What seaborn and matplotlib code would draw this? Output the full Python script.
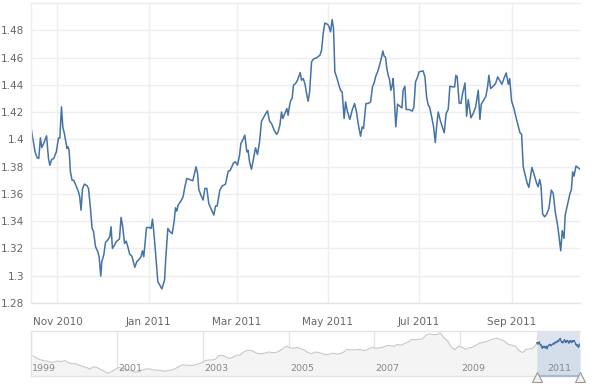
import numpy as np
import pandas as pd
import matplotlib
matplotlib.use("Agg")
import matplotlib.pyplot as plt
import matplotlib.dates as mdates
import matplotlib.transforms as mtransforms
import seaborn as sns

# ---------------- data ----------------
start_date = "2010-10-14"
day_offsets = [0.3, 3.0, 4.4, 5.5, 6.6, 7.5, 8.8, 10.7, 12.0, 12.9, 14.2, 15.5, 17.3, 18.7, 19.6, 20.7, 21.6, 22.7, 24.4, 25.1,
               25.8, 26.7, 27.8, 28.9, 30.5, 32.1, 32.9, 33.8, 34.8, 36.1, 37.8, 38.8, 40.1, 41.2, 42.1, 43.5, 45.0, 45.9, 47.0, 47.7,
               49.0, 50.2, 51.7, 53.0, 53.9, 54.8, 56.2, 57.3, 59.5, 60.6, 61.7, 62.9, 64.0, 65.1, 66.4, 67.8, 69.8, 71.1, 72.7, 74.0,
               74.9, 75.8, 76.7, 77.6, 79.0, 80.7, 81.6, 82.5, 83.8, 85.2, 86.5, 87.9, 89.7, 90.5, 91.9, 93.0, 94.8, 96.1, 97.0, 97.9,
               98.8, 100.6, 102.1, 103.3, 104.6, 106.4, 108.6, 110.8, 111.8, 112.6, 114.0, 115.5, 116.7, 118.0, 119.3, 120.7, 122.7, 123.8, 124.9, 126.7,
               128.2, 130.5, 132.3, 133.6, 135.9, 137.2, 138.5, 139.9, 140.8, 142.3, 143.4, 144.8, 145.6, 146.6, 147.9, 149.3, 150.6, 151.9, 153.3, 154.6,
               156.2, 157.5, 158.6, 160.0, 161.3, 163.1, 164.7, 165.7, 166.9, 168.0, 168.9, 170.2, 171.6, 172.4, 173.4, 174.2, 175.1, 176.0, 177.4, 178.7,
               180.5, 181.4, 182.5, 183.6, 185.0, 185.8, 186.8, 188.1, 189.4, 191.4, 193.7, 194.8, 195.9, 197.0, 198.8, 199.7, 200.8, 201.9, 202.8, 203.7,
               205.2, 206.6, 207.7, 208.6, 209.9, 210.9, 211.9, 213.7, 215.3, 216.9, 218.2, 219.3, 220.9, 222.0, 222.9, 224.5, 226.0, 227.6, 228.9, 230.0,
               231.1, 232.3, 233.6, 235.0, 235.8, 236.7, 237.6, 238.5, 239.4, 240.3, 241.2, 242.1, 242.7, 243.4, 244.5, 245.7, 247.0, 248.6, 249.4, 250.6,
               251.4, 253.3, 255.5, 256.6, 257.7, 259.1, 260.1, 262.8, 264.0, 265.1, 266.2, 267.1, 268.5, 269.8, 270.9, 272.0, 272.9, 274.2, 275.6, 276.9,
               278.2, 279.6, 280.7, 282.5, 283.9, 284.7, 285.6, 286.9, 288.1, 289.2, 290.8, 291.9, 293.0, 294.8, 296.3, 297.9, 299.7, 300.8, 301.7, 303.0,
               304.8, 306.0, 306.8, 308.0, 309.7, 311.3, 312.7, 314.2, 315.5, 317.1, 318.4, 319.8, 320.7, 322.0, 323.6, 324.9, 326.3, 327.6, 328.7, 329.8,
               331.1, 332.5, 333.6, 335.6, 337.0, 338.8, 339.8, 340.8, 341.7, 342.8, 344.1, 345.5, 347.0, 348.6, 349.9, 351.2, 352.6, 353.5, 354.9, 355.9,
               357.1, 357.9, 359.5, 361.1, 362.0, 362.9, 363.8, 365.1, 366.4, 367.8]
rates = [1.4087, 1.3909, 1.3865, 1.3860, 1.4011, 1.3940, 1.3970, 1.4026, 1.3860, 1.3810, 1.3853, 1.3860, 1.3910, 1.4010, 1.4010, 1.4238, 1.4090, 1.4040, 1.3933, 1.3945,
         1.3920, 1.3762, 1.3700, 1.3700, 1.3659, 1.3615, 1.3579, 1.3481, 1.3640, 1.3672, 1.3660, 1.3640, 1.3494, 1.3347, 1.3327, 1.3213, 1.3176, 1.3140, 1.2998, 1.3103,
         1.3152, 1.3245, 1.3262, 1.3286, 1.3359, 1.3200, 1.3225, 1.3249, 1.3269, 1.3428, 1.3359, 1.3237, 1.3254, 1.3213, 1.3157, 1.3144, 1.3062, 1.3103, 1.3120, 1.3140,
         1.3183, 1.3140, 1.3249, 1.3352, 1.3355, 1.3347, 1.3415, 1.3322, 1.3152, 1.2956, 1.2932, 1.2903, 1.2968, 1.3127, 1.3347, 1.3327, 1.3308, 1.3396, 1.3498, 1.3474,
         1.3518, 1.3547, 1.3579, 1.3652, 1.3713, 1.3706, 1.3696, 1.3799, 1.3750, 1.3635, 1.3591, 1.3555, 1.3640, 1.3640, 1.3530, 1.3494, 1.3445, 1.3511, 1.3511, 1.3628,
         1.3657, 1.3672, 1.3767, 1.3772, 1.3828, 1.3835, 1.3811, 1.3884, 1.3970, 1.4001, 1.4031, 1.3908, 1.3920, 1.3835, 1.3780, 1.3860, 1.3938, 1.3889, 1.3982, 1.4133,
         1.4165, 1.4190, 1.4209, 1.4133, 1.4116, 1.4067, 1.4036, 1.4055, 1.4104, 1.4201, 1.4153, 1.4190, 1.4226, 1.4177, 1.4251, 1.4287, 1.4300, 1.4397, 1.4410, 1.4434,
         1.4490, 1.4434, 1.4446, 1.4410, 1.4324, 1.4280, 1.4348, 1.4568, 1.4590, 1.4597, 1.4617, 1.4653, 1.4776, 1.4853, 1.4844, 1.4829, 1.4788, 1.4878, 1.4812, 1.4495,
         1.4446, 1.4390, 1.4356, 1.4348, 1.4153, 1.4275, 1.4214, 1.4146, 1.4214, 1.4263, 1.4201, 1.4116, 1.4023, 1.4092, 1.4080, 1.4263, 1.4263, 1.4275, 1.4385, 1.4414,
         1.4463, 1.4495, 1.4544, 1.4604, 1.4648, 1.4610, 1.4604, 1.4519, 1.4470, 1.4439, 1.4360, 1.4397, 1.4446, 1.4324, 1.4092, 1.4258, 1.4245, 1.4231, 1.4360, 1.4390,
         1.4219, 1.4219, 1.4207, 1.4238, 1.4421, 1.4458, 1.4495, 1.4502, 1.4458, 1.4311, 1.4251, 1.4238, 1.4165, 1.4092, 1.3977, 1.4116, 1.4201, 1.4141, 1.4092, 1.4048,
         1.4190, 1.4221, 1.4390, 1.4385, 1.4385, 1.4470, 1.4458, 1.4267, 1.4263, 1.4336, 1.4414, 1.4170, 1.4292, 1.4158, 1.4190, 1.4234, 1.4360, 1.4146, 1.4258, 1.4282,
         1.4316, 1.4390, 1.4470, 1.4373, 1.4390, 1.4410, 1.4458, 1.4429, 1.4404, 1.4453, 1.4487, 1.4404, 1.4446, 1.4282, 1.4226, 1.4165, 1.4104, 1.4048, 1.4038, 1.3799,
         1.3738, 1.3677, 1.3648, 1.3794, 1.3745, 1.3677, 1.3652, 1.3706, 1.3657, 1.3452, 1.3432, 1.3452, 1.3494, 1.3628, 1.3604, 1.3469, 1.3384, 1.3311, 1.3183, 1.3330,
         1.3274, 1.3445, 1.3525, 1.3604, 1.3628, 1.3762, 1.3730, 1.3804, 1.3794, 1.3780]

y_ticks = [1.28, 1.30, 1.32, 1.34, 1.36, 1.38, 1.40, 1.42, 1.44, 1.46, 1.48]
y_tick_labels = ["1.28", "1.3", "1.32", "1.34", "1.36", "1.38", "1.4", "1.42", "1.44", "1.46", "1.48"]
x_tick_dates = ["2010-11-01", "2011-01-01", "2011-03-01", "2011-05-01", "2011-07-01", "2011-09-01"]
x_tick_labels = ["Nov 2010", "Jan 2011", "Mar 2011", "May 2011", "Jul 2011", "Sep 2011"]

# navigator: long-term history (monthly, 1999 - Oct 2010)
nav_years = list(range(1999, 2011))
nav_rates_by_year = {
    1999: [1.16, 1.12, 1.09, 1.07, 1.06, 1.04, 1.04, 1.06, 1.05, 1.07, 1.03, 1.01],
    2000: [1.01, 0.98, 0.96, 0.94, 0.91, 0.95, 0.94, 0.90, 0.87, 0.83, 0.86, 0.90],
    2001: [0.94, 0.92, 0.91, 0.89, 0.87, 0.85, 0.86, 0.90, 0.91, 0.91, 0.89, 0.89],
    2002: [0.88, 0.87, 0.88, 0.89, 0.92, 0.96, 0.99, 0.98, 0.98, 0.98, 1.00, 1.02],
    2003: [1.06, 1.08, 1.08, 1.09, 1.16, 1.17, 1.14, 1.11, 1.13, 1.17, 1.17, 1.23],
    2004: [1.26, 1.26, 1.23, 1.20, 1.20, 1.21, 1.23, 1.22, 1.22, 1.25, 1.30, 1.34],
    2005: [1.31, 1.30, 1.32, 1.29, 1.27, 1.22, 1.20, 1.23, 1.22, 1.20, 1.18, 1.19],
    2006: [1.21, 1.19, 1.20, 1.23, 1.28, 1.27, 1.27, 1.28, 1.27, 1.26, 1.29, 1.32],
    2007: [1.30, 1.31, 1.32, 1.35, 1.35, 1.34, 1.37, 1.36, 1.39, 1.42, 1.47, 1.46],
    2008: [1.47, 1.48, 1.55, 1.57, 1.56, 1.56, 1.59, 1.50, 1.44, 1.33, 1.27, 1.34],
    2009: [1.32, 1.28, 1.31, 1.32, 1.36, 1.40, 1.41, 1.43, 1.46, 1.48, 1.49, 1.46],
    2010: [1.43, 1.37, 1.36, 1.34, 1.26, 1.22, 1.28, 1.29, 1.31, 1.39],
}
nav_label_years = [1999, 2001, 2003, 2005, 2007, 2009, 2011]

# ---------------- frames ----------------
t0 = pd.Timestamp(start_date)
main_df = pd.DataFrame({
    "date": t0 + pd.to_timedelta(day_offsets, unit="D"),
    "rate": rates,
})
nav_dates, nav_vals = [], []
for yr in nav_years:
    for m, v in enumerate(nav_rates_by_year[yr]):
        nav_dates.append(pd.Timestamp(year=yr, month=m + 1, day=15))
        nav_vals.append(v)
nav_df = pd.DataFrame({"date": nav_dates, "rate": nav_vals})
nav_df = pd.concat([nav_df, main_df.iloc[[0]]], ignore_index=True)

# ---------------- style ----------------
sns.set_theme(style="white")
plt.rcParams["font.family"] = ["DejaVu Sans"]

LINE = "#4572A7"
GRID = "#eeeeee"
LABEL = "#666666"

fig = plt.figure(figsize=(6.0, 3.84), dpi=100)
ax = fig.add_axes([31 / 600, 1 - 303 / 384, 549 / 600, 300 / 384])
nav = fig.add_axes([31 / 600, 1 - 376 / 384, 549 / 600, 45 / 384])

# ---------------- main chart ----------------
sns.lineplot(data=main_df, x="date", y="rate", ax=ax, color=LINE, linewidth=1.1,
             estimator=None, sort=False)
ax.set_xlim(main_df["date"].min(), main_df["date"].max())
ax.set_ylim(1.28, 1.50)
ax.set_yticks(y_ticks)
ax.set_yticklabels(y_tick_labels)
ax.set_xticks(pd.to_datetime(x_tick_dates))
ax.set_xticklabels(x_tick_labels)
ax.xaxis.set_minor_locator(mdates.MonthLocator())
ax.set_xlabel("")
ax.set_ylabel("")
ax.grid(True, axis="both", which="major", color=GRID, linewidth=1.0)
ax.set_axisbelow(True)
for side in ["right"]:
    ax.spines[side].set_visible(False)
for side in ["top", "left"]:
    ax.spines[side].set_color(GRID)
    ax.spines[side].set_linewidth(1.0)
ax.spines["bottom"].set_color("#e4e4e4")
ax.spines["bottom"].set_linewidth(1.0)
ax.tick_params(axis="y", length=0, pad=5, labelsize=7.5, labelcolor=LABEL)
ax.tick_params(axis="x", which="major", length=4, width=0.8, color="#e0e0e0",
               pad=6, labelsize=7.5, labelcolor=LABEL, direction="out")
ax.tick_params(axis="x", which="minor", length=4, width=0.8, color="#e0e0e0", direction="out")

# ---------------- navigator ----------------
sel_start = main_df["date"].min()
sel_end = main_df["date"].max()
nav_floor = 0.778
sns.lineplot(data=nav_df, x="date", y="rate", ax=nav, color="#c8c8c8", linewidth=0.8,
             estimator=None, sort=False)
nav.fill_between(nav_df["date"], nav_df["rate"], nav_floor, color="#f4f4f4", linewidth=0)
nav.axvspan(sel_start, sel_end, color="#dde4ef", zorder=0.5, linewidth=0)
nav.fill_between(main_df["date"], main_df["rate"], nav_floor, color="#d4ddea", linewidth=0, zorder=0.6)
sns.lineplot(data=main_df, x="date", y="rate", ax=nav, color=LINE, linewidth=0.9,
             estimator=None, sort=False)
nav.set_xlim(pd.Timestamp("1999-01-01"), sel_end)
nav.set_ylim(nav_floor, 1.627)
nav.set_xlabel("")
nav.set_ylabel("")
nav.set_yticks([])
year_ticks = [pd.Timestamp(year=y, month=1, day=1) for y in nav_label_years]
nav.set_xticks(year_ticks)
nav.set_xticklabels([])
nav.tick_params(axis="x", length=0)
nav.grid(True, axis="x", color="#e2e2e2", linewidth=0.9)
nav.set_axisbelow(True)
for side in ["top", "bottom", "left", "right"]:
    nav.spines[side].set_color("#e2e2e2")
    nav.spines[side].set_linewidth(0.9)
nav.spines["right"].set_visible(False)
for y, d in zip(nav_label_years, year_ticks):
    nav.text(d + pd.Timedelta(days=12), nav_floor + 0.05, str(y), fontsize=6.8,
             color="#888888", ha="left", va="bottom")
# selection outline along the bottom and the two handles
trans = mtransforms.blended_transform_factory(nav.transData, nav.transAxes)
nav.plot([sel_start, sel_end], [0, 0], transform=trans, color="#a9b9d2", linewidth=1.6,
         clip_on=False, zorder=5)
nav.plot([sel_start, sel_end], [-0.02, -0.02], transform=trans, linestyle="none", marker="^",
         markersize=7, markerfacecolor="#f0f0f0", markeredgecolor="#999999",
         markeredgewidth=0.8, clip_on=False, zorder=6)

fig.savefig("out.png", dpi=100, facecolor="white")
